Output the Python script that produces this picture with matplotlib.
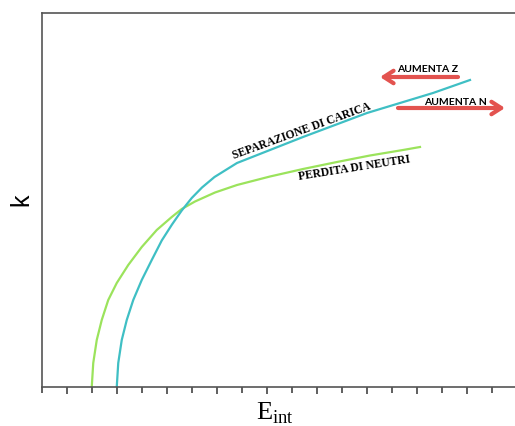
import numpy as np
import matplotlib.pyplot as plt
from matplotlib.ticker import MultipleLocator, NullFormatter

plt.rcParams["mathtext.fontset"] = "custom"
plt.rcParams["mathtext.rm"] = "Liberation Serif"

# curves (arbitrary units)
neutri_x = [1.99, 2.05, 2.19, 2.39, 2.65, 2.99, 3.45, 3.99, 4.59, 5.19, 5.59,
            6.12, 6.92, 7.8, 9.12, 10.44, 11.8, 13.12, 14.44, 15.12]
neutri_y = [0.0, 0.96, 1.88, 2.68, 3.48, 4.16, 4.88, 5.6, 6.28, 6.8, 7.12,
            7.42, 7.78, 8.08, 8.42, 8.72, 9.0, 9.26, 9.48, 9.6]

carica_x = [2.99, 3.05, 3.19, 3.39, 3.65, 3.99, 4.39, 4.79, 5.2, 5.59, 5.99,
            6.4, 6.9, 7.8, 9.12, 10.44, 11.72, 13.0, 14.32, 15.64, 17.12]
carica_y = [0.0, 0.96, 1.88, 2.68, 3.48, 4.28, 5.08, 5.86, 6.5, 7.06, 7.56,
            7.98, 8.4, 8.96, 9.48, 10.0, 10.48, 10.96, 11.36, 11.76, 12.28]

W, H = 515, 426
fig = plt.figure(figsize=(W / 100, H / 100), dpi=100)
# the right spine sits just past the image edge, as in the original
ax = fig.add_axes([42 / W, 39 / H, 483 / W, 374 / H])

ax.plot(neutri_x, neutri_y, color="#9be35c", lw=1.6)
ax.plot(carica_x, carica_y, color="#3fbfc4", lw=1.6)

ax.set_xlim(0, 483 / 25)
ax.set_ylim(0, 374 / 25)

for s in ax.spines.values():
    s.set_color("#555555")
    s.set_linewidth(1.2)

ax.xaxis.set_major_locator(MultipleLocator(2, offset=1))
ax.xaxis.set_minor_locator(MultipleLocator(1))
ax.xaxis.set_major_formatter(NullFormatter())
ax.tick_params(axis="x", which="major", length=5, width=1.2, color="#444444")
ax.tick_params(axis="x", which="minor", length=4, width=1.2, color="#444444")
ax.set_yticks([])

ax.set_ylabel("k", family="Liberation Sans", fontsize=18, labelpad=6)
ax.set_xlabel(r"$\mathrm{E}_{\mathrm{int}}$", fontsize=19, va="top")
ax.xaxis.set_label_coords(0.482, -0.035)

# curve labels
serif = dict(family="Liberation Serif", weight="bold", fontsize=8.3,
             ha="center", va="center")
ax.text(10.4, 10.24, "SEPARAZIONE DI CARICA", rotation=20, **serif)
ax.text(12.48, 8.76, "PERDITA DI NEUTRI", rotation=9, **serif)

sans = dict(family="Lato", weight="bold", fontsize=7.5, ha="center", va="center")
ax.text(15.44, 12.72, "AUMENTA Z", **sans)
ax.text(16.56, 11.4, "AUMENTA N", **sans)

arrow = dict(arrowstyle="->,head_length=0.7,head_width=0.45",
             color="#e3534f", lw=3, shrinkA=0, shrinkB=0)
ax.annotate("", xy=(13.52, 12.4), xytext=(16.64, 12.4), arrowprops=arrow)
ax.annotate("", xy=(18.52, 11.16), xytext=(14.24, 11.16), arrowprops=arrow)

fig.savefig("out.png", dpi=100)
